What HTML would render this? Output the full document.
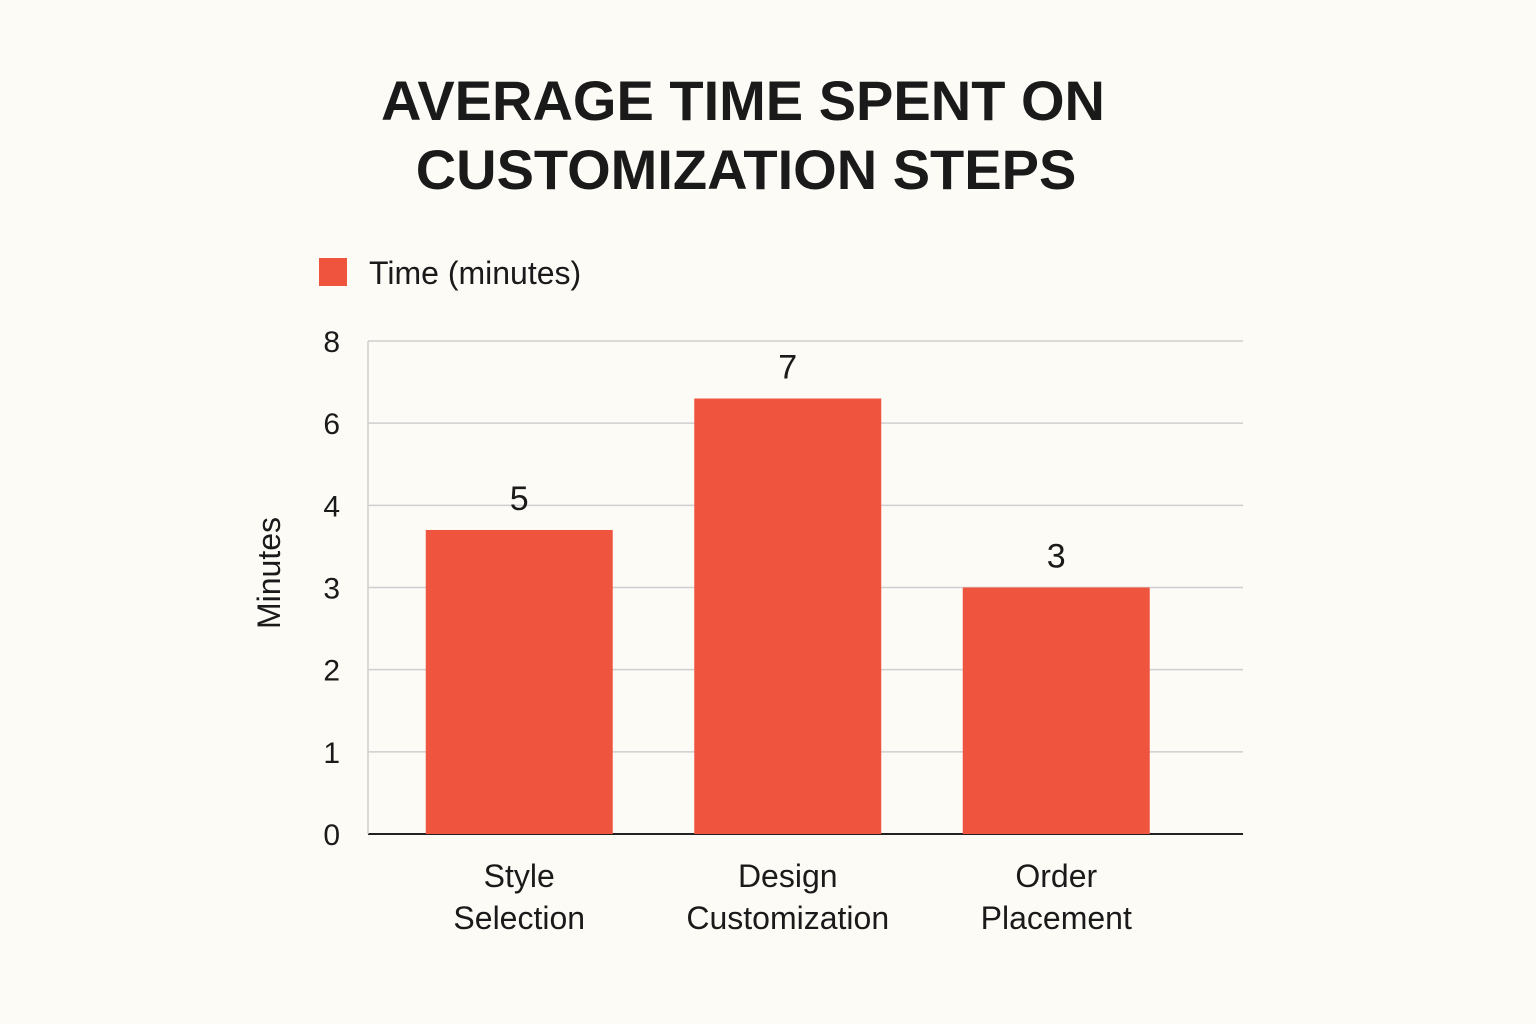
<!DOCTYPE html>
<html><head><meta charset="utf-8"><style>
body{margin:0;background:#FCFBF6;}
svg{display:block;font-family:"Liberation Sans",sans-serif;}
</style></head><body>
<svg id="chart" width="1536" height="1024" viewBox="0 0 1536 1024">
<rect width="1536" height="1024" fill="#FCFBF6"/>
<text x="743" y="120" text-anchor="middle" font-size="56" font-weight="bold" fill="#1a1a1a">AVERAGE TIME SPENT ON</text>
<text x="746" y="189" text-anchor="middle" font-size="56" font-weight="bold" fill="#1a1a1a">CUSTOMIZATION STEPS</text>
<g>
<rect x="319" y="258" width="28" height="28" fill="#EF553E"/>
<text x="369" y="284" font-size="32" fill="#1a1a1a">Time (minutes)</text>
</g>
<text transform="translate(280,573) rotate(-90)" text-anchor="middle" font-size="32" fill="#1a1a1a">Minutes</text>
<g id="grid"></g><g id="bars"></g><g id="labels"></g>
</svg>
<script>
const tickValues=[0,1,2,3,4,6,8];
const categories=[["Style","Selection"],["Design","Customization"],["Order","Placement"]];
const values=[3.7,6.6,3.0];
const valueLabels=["5","7","3"];

const NS="http://www.w3.org/2000/svg";
const y0=834,step=82.17,xLeft=368,xRight=1243,band=268.5,xStart=385,barW=187;
function yScale(v){
  for(let i=0;i<tickValues.length-1;i++){
    if(v<=tickValues[i+1]){const t=(v-tickValues[i])/(tickValues[i+1]-tickValues[i]);return y0-(i+t)*step;}
  }
  return y0-(tickValues.length-1)*step;
}
function xScale(i){return xStart+(i+0.5)*band;}
function mk(tag,attrs,parent,text){const e=document.createElementNS(NS,tag);for(const k in attrs)e.setAttribute(k,attrs[k]);if(text!=null)e.textContent=text;parent.appendChild(e);return e;}
const grid=document.getElementById('grid'),bars=document.getElementById('bars'),labels=document.getElementById('labels');
tickValues.forEach((v,i)=>{
  const y=yScale(v);
  const l=mk('line',{x1:xLeft,x2:xRight,y1:y,y2:y,stroke:i===0?'#222':'#cfcfcf','stroke-width':i===0?2:1.5},grid);
  
  
  const t=mk('text',{x:340,y:y+11,'text-anchor':'end','font-size':30,fill:'#1a1a1a'},grid,String(v));
  
  
});
mk('line',{x1:xLeft,x2:xLeft,y1:yScale(8),y2:y0,stroke:'#cfcfcf','stroke-width':1.5},grid);
values.forEach((v,i)=>{
  const cx=xScale(i),top=yScale(v);
  const r=mk('rect',{x:cx-barW/2,y:top,width:barW,height:y0-top,fill:'#EF553E'},bars);
  
  
  const vl=mk('text',{x:cx,y:top-20,'text-anchor':'middle','font-size':34,fill:'#1a1a1a'},labels,valueLabels[i]);
  
  
  categories[i].forEach((line,j)=>{
    const c=mk('text',{x:cx,y:887+j*42,'text-anchor':'middle','font-size':32,fill:'#1a1a1a'},labels,line);
    
    
  });
});
</script>
</body></html>
